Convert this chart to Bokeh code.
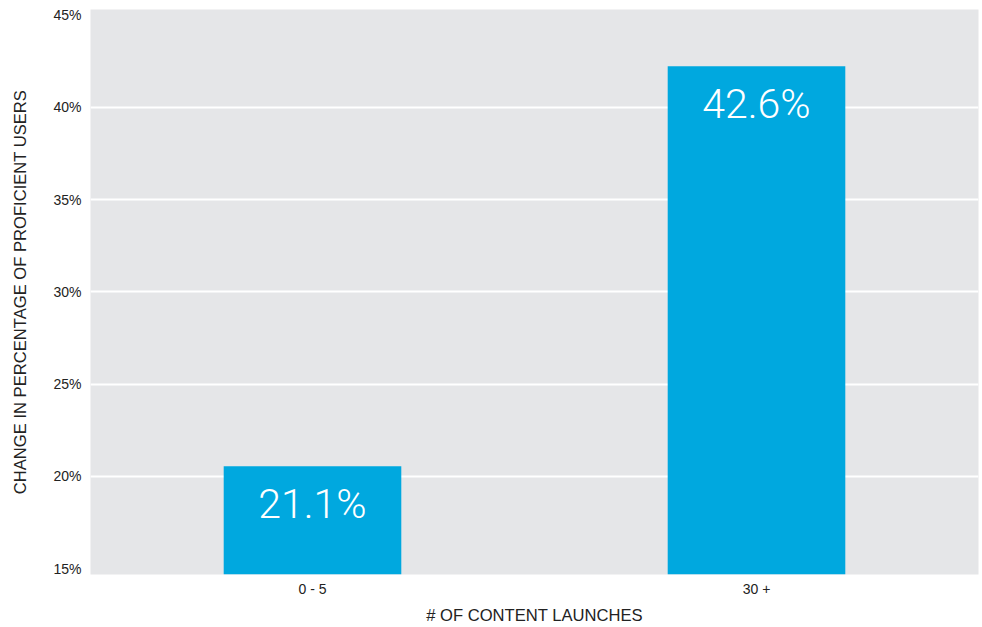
from bokeh.plotting import figure
from bokeh.models import ColumnDataSource, FactorRange, Range1d, FixedTicker, PrintfTickFormatter
from bokeh.core.properties import value
from bokeh.embed import file_html
from bokeh.resources import INLINE

categories = ["0 - 5", "30 +"]
bar_values = [20.54, 42.22]
bar_labels = ["21.1%", "42.6%"]
y_ticks = [15, 20, 25, 30, 35, 40, 45]
grid_ticks = [20, 25, 30, 35, 40]

src = ColumnDataSource(dict(x=categories, top=bar_values, label=bar_labels))

p = figure(width=980, height=627, output_backend="svg", toolbar_location=None,
           x_range=FactorRange(*categories, range_padding=0),
           y_range=Range1d(14.68, 45.3),
           min_border_left=90, min_border_right=2, min_border_top=9, min_border_bottom=52)

p.background_fill_color = "#e5e6e8"
p.border_fill_color = "white"
p.outline_line_color = None

p.vbar(x="x", top="top", bottom=0, width=0.4, source=src,
       fill_color="#00a8df", line_color=None)

p.text(x="x", y="top", text="label", source=src, y_offset=38,
       text_align="center", text_baseline="middle", text_color="white",
       text_font=value("Roboto Light"), text_font_size="41px")

p.xgrid.grid_line_color = None
p.ygrid.grid_line_color = "white"
p.ygrid.grid_line_width = 2
p.ygrid.level = "underlay"
p.ygrid.ticker = FixedTicker(ticks=grid_ticks)

p.yaxis.ticker = FixedTicker(ticks=y_ticks)
p.yaxis.formatter = PrintfTickFormatter(format="%d%%")
for ax in (p.xaxis[0], p.yaxis[0]):
    ax.axis_line_color = None
    ax.major_tick_line_color = None
    ax.minor_tick_line_color = None
    ax.major_label_text_font = "Liberation Sans"
    ax.major_label_text_font_size = "14px"
    ax.major_label_text_color = "#222222"
    ax.axis_label_text_font = "Liberation Sans"
    ax.axis_label_text_font_size = "16.6px"
    ax.axis_label_text_font_style = "normal"
    ax.axis_label_text_color = "#222222"

p.xaxis.axis_label = "# OF CONTENT LAUNCHES"
p.yaxis.axis_label = "CHANGE IN PERCENTAGE OF PROFICIENT USERS"
p.xaxis.major_label_standoff = 0
p.xaxis.axis_label_standoff = 6
p.yaxis.major_label_standoff = 3
p.yaxis.axis_label_standoff = 20

open("out.html", "w").write(file_html(p, INLINE))
